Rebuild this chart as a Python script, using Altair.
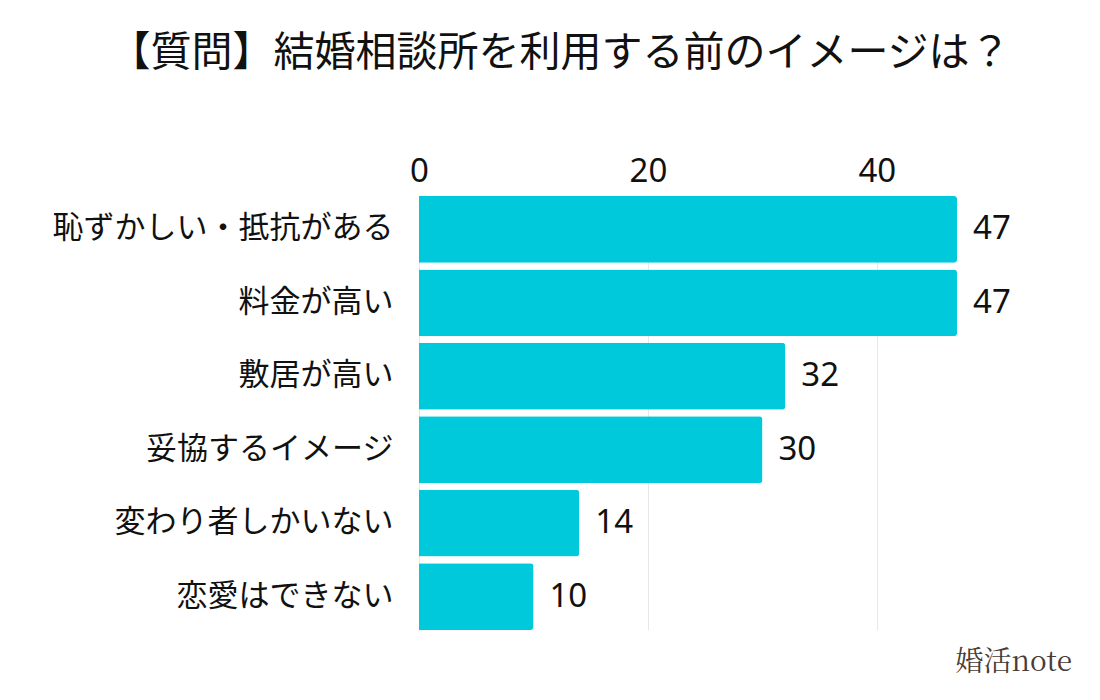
import altair as alt
import pandas as pd

categories = ["恥ずかしい・抵抗がある", "料金が高い", "敷居が高い", "妥協するイメージ", "変わり者しかいない", "恋愛はできない"]
values = [47, 47, 32, 30, 14, 10]
x_ticks = [0, 20, 40]

title_text = "【質問】結婚相談所を利用する前のイメージは？"
watermark = "婚活note"

FONT = "Noto Sans CJK JP"
NUM_FONT = "Noto Sans"
BAR_COLOR = "#00C9DB"

df = pd.DataFrame({"category": categories, "value": values})

x_enc = alt.X(
    "value:Q",
    scale=alt.Scale(domain=[0, 47], nice=False),
    axis=alt.Axis(
        orient="top", values=x_ticks, title=None, domain=False, ticks=False,
        labelFontSize=33, labelFont=NUM_FONT, labelColor="#111111", labelPadding=8,
        grid=True, gridColor="#e8e8e8", labelFlush=False,
    ),
)
y_enc = alt.Y(
    "category:N",
    sort=categories,
    scale=alt.Scale(paddingInner=0.09, paddingOuter=0.0),
    axis=alt.Axis(
        title=None, domain=False, ticks=False, labelFontSize=31, labelFont=FONT,
        labelColor="#111111", labelPadding=26, labelLimit=500,
    ),
)

bars = alt.Chart(df).mark_bar(color=BAR_COLOR, cornerRadiusEnd=3).encode(x=x_enc, y=y_enc)
labels = alt.Chart(df).mark_text(
    align="left", baseline="middle", dx=16, fontSize=33, font=NUM_FONT, color="#111111"
).encode(x=x_enc, y=y_enc, text="value:Q")

wm = alt.Chart(pd.DataFrame({"t": [watermark]})).mark_text(
    align="right", baseline="middle", fontSize=28, font="Noto Serif CJK JP", color="#4a3b37"
).encode(x=alt.value(653), y=alt.value(467), text="t:N")

chart = (
    alt.layer(bars, labels, wm)
    .properties(
        width=538, height=434,
        background="white",
        autosize=alt.AutoSizeParams(type="none"),
        padding={"left": 411, "top": 188, "right": 135, "bottom": 62},
        title=alt.TitleParams(
            title_text, font=FONT, fontSize=41, fontWeight="normal", color="#111111",
            anchor="middle", dx=-128, offset=80,
        ),
    )
    .configure_view(stroke="transparent")
)

chart.save("out.html", embed_options={"renderer": "svg", "actions": False})
